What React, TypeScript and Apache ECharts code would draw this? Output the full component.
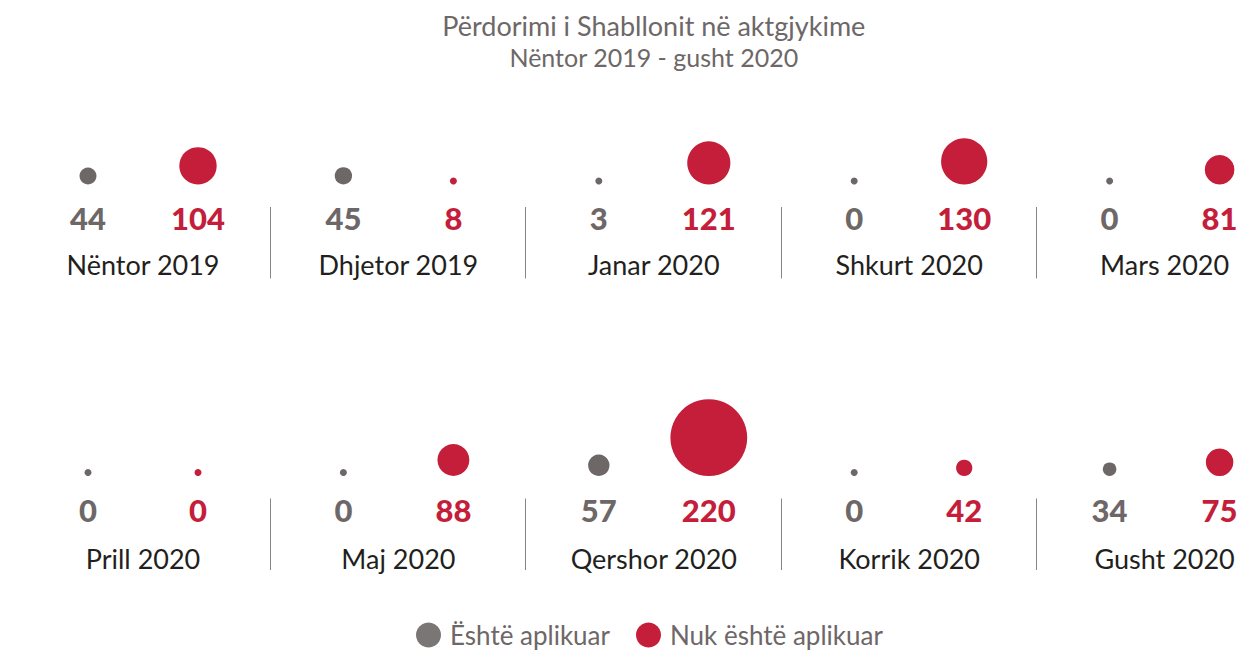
import React, { useEffect, useRef } from "react";
import * as echarts from "echarts";

const titleText = "Përdorimi i Shabllonit në aktgjykime";
const subtitleText = "Nëntor 2019 - gusht 2020";
const seriesNames = ["Është aplikuar", "Nuk është aplikuar"];
const months = [
  "Nëntor 2019",
  "Dhjetor 2019",
  "Janar 2020",
  "Shkurt 2020",
  "Mars 2020",
  "Prill 2020",
  "Maj 2020",
  "Qershor 2020",
  "Korrik 2020",
  "Gusht 2020",
];
const applied = [44, 45, 3, 0, 0, 0, 0, 57, 0, 34];
const notApplied = [104, 8, 121, 130, 81, 0, 88, 220, 42, 75];

const GREY = "#6e6767";
const RED = "#c41e3a";
const FONT = "Lato, 'Open Sans', sans-serif";

const sizeOf = (v: number) => Math.max(7, 0.34 * v + 2);

export default function App() {
  const ref = useRef<HTMLDivElement>(null);

  useEffect(() => {
    if (!ref.current) return;
    document.body.style.margin = "0";
    document.body.style.overflow = "hidden";
    const chart = echarts.init(ref.current, undefined, { renderer: "svg" });

    const perRow = 5;
    const step = 255.4;
    const firstCx = 143;
    const baselines = [184.5, 476];
    const nameGaps = [66, 69];
    const gridH = 100;
    const gridW = 220;

    const grids: any[] = [];
    const xAxes: any[] = [];
    const yAxes: any[] = [];
    const series: any[] = [];
    const graphics: any[] = [];

    months.forEach((m, i) => {
      const row = Math.floor(i / perRow);
      const col = i % perRow;
      const cx = firstCx + col * step;
      const base = baselines[row];
      grids.push({
        left: cx - gridW / 2,
        top: base - gridH,
        width: gridW,
        height: gridH,
        containLabel: false,
      });
      xAxes.push({
        type: "category",
        gridIndex: i,
        data: seriesNames,
        boundaryGap: true,
        axisLine: { show: false },
        axisTick: { show: false },
        splitLine: { show: false },
        axisLabel: {
          margin: 18,
          interval: 0,
          formatter: (_v: string, idx: number) =>
            idx === 0 ? `{g|${applied[i]}}` : `{r|${notApplied[i]}}`,
          rich: {
            g: { color: GREY, fontSize: 31, fontWeight: 900, fontFamily: FONT, lineHeight: 31 },
            r: { color: RED, fontSize: 31, fontWeight: 900, fontFamily: FONT, lineHeight: 31 },
          },
        },
        name: m,
        nameLocation: "middle",
        nameGap: nameGaps[row],
        nameTextStyle: {
          color: "#231f20",
          fontSize: 27,
          fontFamily: FONT,
          lineHeight: 27,
        },
      });
      yAxes.push({ type: "value", gridIndex: i, min: 0, max: 1, show: false });

      const dg = sizeOf(applied[i]);
      const dr = sizeOf(notApplied[i]);
      series.push({
        type: "scatter",
        name: seriesNames[0],
        xAxisIndex: i,
        yAxisIndex: i,
        clip: false,
        itemStyle: { color: GREY, opacity: 1 },
        emphasis: { disabled: true },
        data: [{ value: [0, 0], symbolSize: dg, symbolOffset: [0, -dg / 2] }],
      });
      series.push({
        type: "scatter",
        name: seriesNames[1],
        xAxisIndex: i,
        yAxisIndex: i,
        clip: false,
        itemStyle: { color: RED, opacity: 1 },
        emphasis: { disabled: true },
        data: [{ value: [1, 0], symbolSize: dr, symbolOffset: [0, -dr / 2] }],
      });

      if (col < perRow - 1) {
        const sx = Math.round(cx + step / 2) - 0.5;
        graphics.push({
          type: "line",
          shape: { x1: sx, y1: base + 22.5, x2: sx, y2: base + 94 },
          style: { stroke: "#8a8483", lineWidth: 1 },
          silent: true,
        });
      }
    });

    const centerX = firstCx + 2 * step;
    graphics.push({
      type: "text",
      x: centerX,
      y: 25,
      style: {
        text: titleText,
        fill: GREY,
        font: `27px ${FONT}`,
        textAlign: "center",
        textVerticalAlign: "middle",
      },
    });
    graphics.push({
      type: "text",
      x: centerX,
      y: 57,
      style: {
        text: subtitleText,
        fill: GREY,
        font: `25px ${FONT}`,
        textAlign: "center",
        textVerticalAlign: "middle",
      },
    });

    chart.setOption({
      animation: false,
      backgroundColor: "#ffffff",
      grid: grids,
      xAxis: xAxes,
      yAxis: yAxes,
      series,
      graphic: graphics,
      legend: {
        data: [
          { name: seriesNames[0], itemStyle: { color: "#7b7676" } },
          { name: seriesNames[1], itemStyle: { color: RED } },
        ],
        left: 416,
        top: 622,
        padding: 0,
        icon: "circle",
        itemWidth: 25,
        itemHeight: 25,
        itemGap: 26,
        selectedMode: false,
        textStyle: {
          color: GREY,
          fontSize: 26,
          fontFamily: FONT,
          lineHeight: 26,
          padding: [0, 0, 0, 4],
        },
      },
    });

    return () => chart.dispose();
  }, []);

  return (
    <div
      ref={ref}
      style={{ position: "fixed", left: 0, top: 0, width: 1320, height: 650, background: "#fff" }}
    />
  );
}
